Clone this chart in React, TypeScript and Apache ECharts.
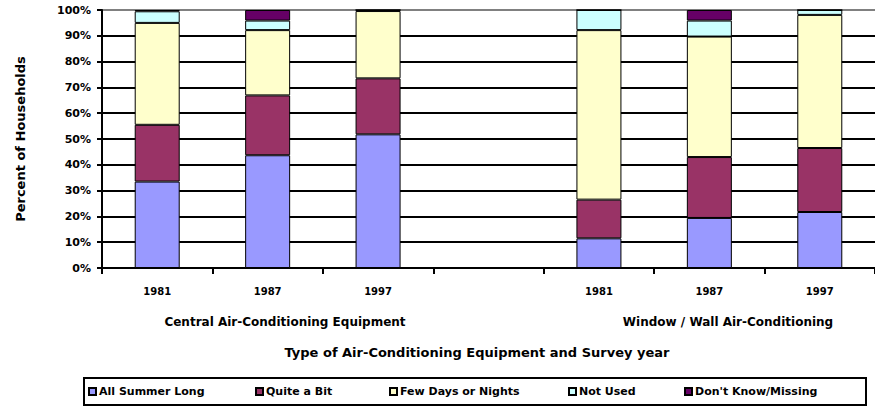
import React, { useEffect, useRef } from "react";
import * as echarts from "echarts";

// Survey years shown under each equipment group
const surveyYears = ["1981", "1987", "1997"];
// Category slots: central units, an empty spacer, then window/wall units
const categories = [...surveyYears, "", ...surveyYears];

const seriesNames = [
  "All Summer Long",
  "Quite a Bit",
  "Few Days or Nights",
  "Not Used",
  "Don't Know/Missing",
];

// Percent of households per category slot (null = spacer slot)
const allSummerLong = [33.5, 43.7, 51.8, null, 11.5, 19.4, 21.7];
const quiteABit = [22.0, 23.2, 21.7, null, 15.0, 23.6, 24.8];
const fewDaysOrNights = [39.5, 25.3, 26.1, null, 65.7, 46.7, 51.6];
const notUsed = [4.5, 3.7, 0.4, null, 7.8, 6.2, 1.9];
const dontKnowMissing = [0.5, 4.1, 0.0, null, 0.0, 4.1, 0.0];

const yTicks = [0, 10, 20, 30, 40, 50, 60, 70, 80, 90, 100];

const groupLabels = ["Central Air-Conditioning Equipment", "Window / Wall Air-Conditioning"];
const axisTitle = "Type of Air-Conditioning Equipment and Survey year";
const valueTitle = "Percent of Households";

const colors = ["#9999FF", "#993366", "#FFFFCC", "#CCFFFF", "#660066"];
const FONT = "DejaVu Sans";

// Left edge of each legend entry inside the legend box
const legendLefts = [88, 255, 389, 568, 684];

export default function App() {
  const ref = useRef<HTMLDivElement>(null);

  useEffect(() => {
    document.body.style.margin = "0";
    if (!ref.current) return;
    const chart = echarts.init(ref.current, null, { renderer: "svg" });

    const values = [allSummerLong, quiteABit, fewDaysOrNights, notUsed, dontKnowMissing];
    const gridLineColors = yTicks.map((t) => (t === 100 ? "#808080" : "#000000"));

    const labelText = (text: string, x: number, y: number, size: number, rotation = 0) => ({
      type: "text",
      x,
      y,
      rotation,
      style: {
        text,
        fill: "#000",
        font: `bold ${size}px "${FONT}"`,
        textAlign: "center",
        textVerticalAlign: "middle",
      },
    });

    chart.setOption({
      animation: false,
      backgroundColor: "#ffffff",
      textStyle: { fontFamily: FONT },
      grid: { left: 102, right: -10, top: 10, bottom: 140, containLabel: false },
      xAxis: {
        type: "category",
        data: categories,
        boundaryGap: true,
        axisLine: { show: true, lineStyle: { color: "#000", width: 2 } },
        axisTick: { show: true, alignWithLabel: false, length: 6, lineStyle: { color: "#000", width: 2 } },
        axisLabel: {
          margin: 18,
          color: "#000",
          fontFamily: FONT,
          fontWeight: "bold",
          fontSize: 10,
        },
        splitLine: { show: false },
      },
      yAxis: {
        type: "value",
        min: 0,
        max: 100,
        interval: 10,
        axisLine: { show: true, lineStyle: { color: "#000", width: 2 } },
        axisTick: { show: true, length: 5, lineStyle: { color: "#000", width: 2 } },
        axisLabel: {
          formatter: "{value}%",
          margin: 11,
          color: "#000",
          fontFamily: FONT,
          fontWeight: "bold",
          fontSize: 11,
        },
        splitLine: { show: true, lineStyle: { color: gridLineColors, width: 2 } },
      },
      legend: seriesNames.map((name, i) => ({
        data: [name],
        left: legendLefts[i],
        top: 386,
        padding: 0,
        itemWidth: 7,
        itemHeight: 7,
        icon: "rect",
        textStyle: { color: "#000", fontFamily: FONT, fontWeight: "bold", fontSize: 11, padding: [0, 0, 0, -2] },
      })),
      graphic: [
        {
          type: "rect",
          shape: { x: 84, y: 378, width: 782, height: 27 },
          style: { fill: "none", stroke: "#000", lineWidth: 2 },
          z: -1,
        },
        labelText(groupLabels[0], 285, 322, 12),
        labelText(groupLabels[1], 728, 322, 12),
        labelText(axisTitle, 477, 352, 13),
        labelText(valueTitle, 20, 139, 13, Math.PI / 2),
      ],
      series: seriesNames.map((name, i) => ({
        name,
        type: "bar",
        stack: "share",
        barWidth: 45,
        data: values[i],
        itemStyle: { color: colors[i], borderColor: "#000", borderWidth: 1 },
      })),
    });

    return () => chart.dispose();
  }, []);

  return <div ref={ref} style={{ width: 875, height: 408 }} />;
}
